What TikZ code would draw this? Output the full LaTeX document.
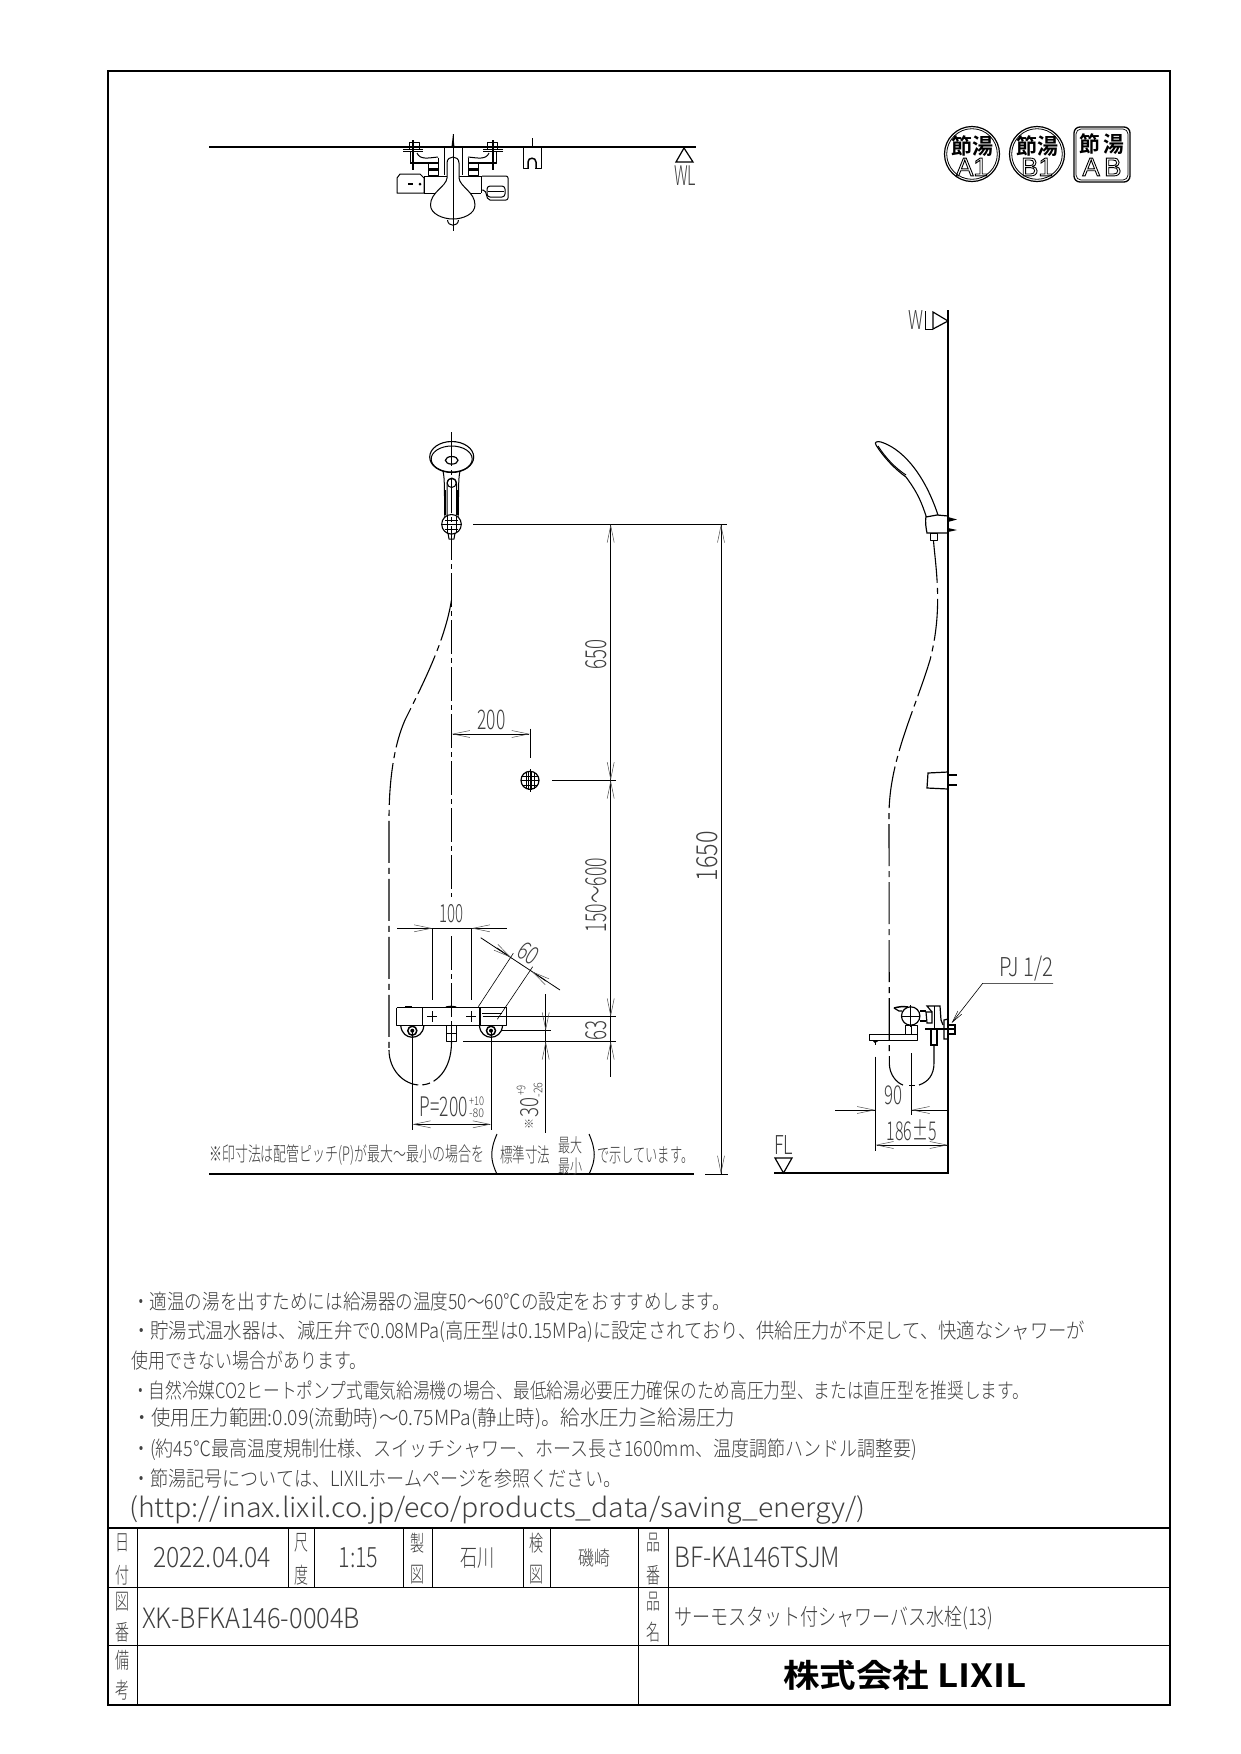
\documentclass[tikz,border=0pt]{standalone}
\usepackage{graphicx}
\usepackage{fontspec}
\usetikzlibrary{arrows.meta}
\setmainfont{Noto Sans CJK JP}[UprightFont=* Light,BoldFont=* Bold]
\setsansfont{Liberation Sans}
\newcounter{tn}
\definecolor{cadtext}{gray}{0.25}
\newcommand{\tx}[6][]{\stepcounter{tn}\node (t\arabic{tn}) [anchor=center,inner sep=0pt,text=cadtext,#1] at (#2,#3) {\resizebox{#4pt}{\height}{\fontsize{#5pt}{#5pt}\selectfont #6}};}
\newcommand{\txl}[6][]{\tx[anchor=west,#1]{#2}{#3}{#4}{#5}{#6}}
\newcommand{\vpair}[5]{\tx{#1}{#2}{14}{22}{#4}\tx{#1}{#3}{14}{22}{#5}}
\newcommand{\outl}[1]{\special{pdf:code q 1 Tr 0.9 w}#1\special{pdf:code Q}}
\tikzset{
 thick line/.style={line width=2.2pt},
 part/.style={line width=1pt,line join=round},
 fine/.style={line width=.6pt},
 ctr/.style={line width=.9pt,dash pattern=on 34pt off 4pt on 5pt off 4pt},
 hose/.style={line width=1.1pt,dash pattern=on 42pt off 5pt on 6pt off 5pt},
 dimln/.style={line width=.8pt},
 tip/.style={dimln,-{Straight Barb[length=17pt,width=7pt,line width=.5pt,color=black!70]}},
 tips/.style={dimln,{Straight Barb[length=17pt,width=7pt,line width=.5pt,color=black!70]}-{Straight Barb[length=17pt,width=7pt,line width=.5pt,color=black!70]}},
}
\begin{document}
\begin{tikzpicture}[x=1pt,y=-1pt]
\useasboundingbox (0,0) rectangle (1240,1754);
\fill[white] (0,0) rectangle (1240,1754);
% frame
\draw[line width=2pt] (108,70.5) rectangle (1170,1705);
% ---- top view
\draw[thick line] (209,147) -- (696,147);
\draw[line width=1.2pt] (684,148) -- (676,162) -- (693,162) -- cycle;
\txl{674}{176}{22}{27}{WL}
\draw[part] (444,148) -- (444,175) (462,148) -- (462,175);
% body
\draw[part] (424,176) -- (447,176) (459,176) -- (481,176);
\draw[part] (424,193) -- (436,193) (470,193) -- (481,193);
\draw[part] (424,176) -- (424,193) (481,176) -- (481,193);
% left box
\draw[part] (397,178) -- (400,174) -- (420,174) -- (424,178) -- (424,193) -- (397,193) -- cycle;
\fill (408,183) rectangle (413,185);
\fill (420,184) circle (1.5);
% right box
\draw[part,rounded corners=2pt] (482,176) -- (508,176) -- (508,200) -- (488,200) -- (485,190) -- (482,190);
\draw[part,rounded corners=3pt] (487,186) rectangle (505,197);
\draw[part] (488,191) -- (504,191);
% brackets
\foreach \s/\o in {1/0,-1/906}{
 \begin{scope}[shift={(\o,0)},xscale=\s]
  \draw[part] (403,149) -- (423,149) (403,151) -- (423,151);
  \draw[part] (409,149) -- (409,142) -- (419,142) -- (419,149);
  \draw[part] (410,152) -- (410,163) -- (438,163) -- (438,158) (410,163) -- (438,163);
  \draw[line width=1.4pt] (410,163) -- (438,163);
  \draw[part] (417,153) .. controls (420,160) and (428,158) .. (438,157);
  \draw[part] (428,163) rectangle (438,175);
  \fill (428,168) rectangle (438,171);
  \draw[line width=1.2pt] (413,140) -- (413,170);
 \end{scope}
}
% bulb
\draw[part,fill=white] (447,178) -- (447,163) .. controls (447,159) and (450,157) .. (453,157) .. controls (456,157) and (459,159) .. (459,163) -- (459,178) .. controls (460,187) and (475,192) .. (475,205) .. controls (475,214) and (463,219) .. (453,219) .. controls (443,219) and (430.5,214) .. (430.5,205) .. controls (430.5,192) and (446,187) .. (447,178) -- cycle;
\draw[part] (447.5,220) .. controls (448,227) and (458,227) .. (458.5,220);
\draw[line width=1pt] (453,134) -- (453,231);
\fill (451.5,147) -- (453,134) -- (454.5,147) -- cycle;
% hook
\draw[part] (523,148) -- (523,168) -- (529,168) (541,148) -- (541,168) -- (535,168);
\draw[line width=1.5pt] (528,168) -- (528,162) .. controls (528,157) and (536,157) .. (536,162) -- (536,168);
\draw[line width=1pt] (532,138) -- (532,147);
% ---- badges
\foreach \cx/\t in {972/A1,1037/B1}{
 \draw[line width=1.2pt] (\cx,154) circle (27.5);
 \draw[line width=.8pt] (\cx,154) circle (25.3);
}
\draw[line width=1.3pt,rounded corners=6pt] (1074,127) rectangle (1130,182);
\draw[line width=.7pt,rounded corners=5pt] (1076,129) rectangle (1128,180);
\node (b1a) [inner sep=0pt] at (972,146) {\resizebox{42pt}{\height}{\fontsize{22pt}{22pt}\selectfont\bfseries 節湯}};
\node (b1b) [inner sep=0pt] at (1037,146) {\resizebox{42pt}{\height}{\fontsize{22pt}{22pt}\selectfont\bfseries 節湯}};
\node (b1c) [inner sep=0pt] at (1102,144) {\resizebox{45pt}{\height}{\fontsize{22pt}{22pt}\selectfont\bfseries 節\,湯}};
\node (b2a) [inner sep=0pt] at (972,167) {\fontsize{26pt}{26pt}\sffamily\outl{A1}};
\node (b2b) [inner sep=0pt] at (1037,167) {\fontsize{26pt}{26pt}\sffamily\outl{B1}};
\node (b2c) [inner sep=0pt] at (1102,167) {\fontsize{26pt}{26pt}\sffamily\outl{A\,B}};
% ---- front view: shower head
\draw[line width=1.1pt] (451.7,457) ellipse [x radius=22,y radius=15.5];
\draw[part] (451.7,459) ellipse [x radius=20.5,y radius=13];
\draw[line width=1.2pt] (451.7,460.3) ellipse [x radius=6.3,y radius=3.8];
\draw[part] (443,471) .. controls (445,480) and (444,490) .. (445,517) (460,471) .. controls (458,480) and (459,490) .. (458,517);
\draw[part] (447,515) -- (447,484) .. controls (447,476) and (456.5,476) .. (456.5,484) -- (456.5,515);
\draw[part] (451.7,483) circle (4.5);
\draw[line width=1.2pt] (445,490) -- (445,515) (458,490) -- (458,515);
\draw[line width=1.1pt] (451.5,524.3) circle (9.8);
\draw[part] (441,524.3) -- (462,524.3) (445,520) -- (458,520) (445,529) -- (458,529) (447,516) -- (447,533) (456,516) -- (456,533);
\draw[part] (448,533) -- (449,539) -- (454,539) -- (455,533);
% center line front
\draw[ctr] (451.5,432) -- (451.5,897);
\draw[ctr] (451.5,936) -- (451.5,1041);
% hose front
\draw[hose] (451.5,600) .. controls (445,640) and (425,680) .. (405,720) .. controls (394,745) and (389,780) .. (389,820) -- (389,1050);
\draw[line width=1.1pt,dash pattern=on 50pt off 4pt on 8pt off 4pt] (389,1050) .. controls (389,1070) and (404,1085) .. (420,1085) .. controls (436,1085) and (451.5,1070) .. (451.5,1042);
% holder circle
\draw[line width=1.2pt] (530,780.3) circle (9);
\draw[part] (521,780.3) -- (539,780.3) (522,776) -- (538,776) (522,785) -- (538,785);
\draw[line width=1pt] (526,772) -- (526,789) (528.5,771) -- (528.5,790) (531.5,771) -- (531.5,790) (534,772) -- (534,789);
\draw[line width=1pt] (530,769) -- (530,792);
% dims
\draw[dimln] (473,524.3) -- (727,524.3);
\draw[dimln] (552,780.3) -- (616,780.3);
\draw[dimln] (610.7,524.3) -- (610.7,1077);
\draw[tip] (610.7,763) -- (610.7,780.3);
\draw[tip] (610.7,797.5) -- (610.7,780.3);
\draw[tip] (610.7,541.3) -- (610.7,524.3);
\draw[tip] (610.7,1000) -- (610.7,1016.7);
\draw[tip] (610.7,1058.3) -- (610.7,1041.3);
\draw[dimln] (721,524.3) -- (721,1174);
\draw[tip] (721,541.3) -- (721,524.3);
\draw[tip] (721,1157) -- (721,1174);
\draw[dimln] (705,1174) -- (728,1174);
\draw[thick line] (209,1174) -- (694,1174);
\tx[rotate=90]{596}{654}{30}{29}{650}
\tx[rotate=90]{596}{895}{74}{29}{150〜600}
\tx[rotate=90]{707}{856}{50}{29}{1650}
% 200
\draw[tips] (451.7,734) -- (530,734);
\draw[dimln] (530,728.7) -- (530,758);
\tx{491.5}{720}{28}{27}{200}
% 100
\draw[dimln] (397,928.3) -- (506.7,928.3);
\draw[tip] (415,928.3) -- (432.3,928.3);
\draw[tip] (489,928.3) -- (471.7,928.3);
\draw[dimln] (432.3,928.3) -- (432.3,1000) (471.7,928.3) -- (471.7,1000);
\tx{451.7}{914}{24}{25}{100}
% 60
\draw[dimln] (480.7,937.7) -- (560,990);
\draw[tip] (497,948) -- (511,957.5);
\draw[tip] (546,981) -- (532,971.5);
\draw[fine] (478.3,1006.7) -- (513.3,953.3) (497.3,1019.3) -- (532.7,966.7);
\tx[rotate=-33]{528.5}{953.5}{20}{25}{60}
% faucet front
\draw[line width=1.3pt] (396.7,1007.7) -- (506.7,1007.7);
\draw[part] (396.7,1007.7) -- (396.7,1025.7) -- (424,1025.7) (424,1025.7) -- (480,1025.7) (480,1025.7) -- (506.7,1025.7) -- (506.7,1007.7);
\draw[line width=1.4pt] (422.3,1007.7) -- (422.3,1026);
\draw[line width=1.2pt] (480,1007.7) -- (480,1026);
\draw[part] (482,1013) -- (502,1013);
\draw[part] (427,1016.7) -- (437,1016.7) (432,1011) -- (432,1022);
\draw[part] (466,1016.7) -- (476,1016.7) (471,1011) -- (471,1022);
\fill (405,1006) rectangle (412,1008);
\fill (444,1007.7) .. controls (446,1005) and (456,1005) .. (458,1007.7) -- cycle;
\foreach \cx in {412.3,491}{
 \draw[line width=1.2pt] (\cx-11.5,1026) .. controls (\cx-10,1041) and (\cx+10,1041) .. (\cx+11.5,1026);
 \draw[line width=1.5pt] (\cx,1030.7) circle (4.5);
 \fill (\cx,1030.7) circle (2);
}
\draw[part] (446,1025.7) rectangle (456.7,1041.3);
\draw[part] (446,1033) -- (456.7,1033) (451.3,1025.7) -- (451.3,1041.3);
% 63 & 30
\draw[dimln] (482.7,1016.7) -- (616,1016.7);
\draw[dimln] (463.3,1041.3) -- (616,1041.3);
\draw[dimln] (501.7,1030.7) -- (551,1030.7);
\draw[dimln] (545.7,994) -- (545.7,1133);
\draw[tip] (545.7,1013.5) -- (545.7,1030.7);
\draw[tip] (545.7,1058.5) -- (545.7,1041.3);
\tx[rotate=90]{596}{1030}{20}{29}{63}
% P=200
\draw[dimln] (412.3,1031) -- (412.3,1130) (491,1031) -- (491,1130);
\draw[tips] (412.3,1124.3) -- (491,1124.3);
\txl{419.5}{1107}{48}{27}{P=200}
\tx{476.5}{1101}{15}{12}{+10}
\tx{476.5}{1113}{15}{12}{-80}
\tx[rotate=90]{529.5}{1107}{20}{25}{30}
\tx[rotate=90]{521}{1090}{10}{12}{+9}
\tx[rotate=90]{538}{1090}{15}{12}{-26}
\tx[rotate=90]{529}{1124}{11}{11}{※}
% note
\txl{209}{1155}{275}{20}{※印寸法は配管ピッチ(P)が最大〜最小の場合を}
\draw[line width=1pt] (497,1134) .. controls (490,1150) and (490,1160) .. (497,1174);
\txl{500}{1155}{50}{20}{標準寸法}
\tx{570}{1145}{24}{19}{最大}
\tx{570}{1166}{24}{19}{最小}
\draw[line width=1pt] (589,1134) .. controls (596,1150) and (596,1160) .. (589,1174);
\txl{597}{1155}{96}{20}{で示しています。}
% ---- side view
\draw[thick line] (948,310) -- (948,1174);
\draw[line width=1.2pt] (933,312) -- (933,329) -- (948,321) -- cycle;
\txl{908}{320}{15}{26}{W}
\draw[fine] (925,311) -- (925,329) -- (933,329);
\draw[thick line] (774,1173) -- (948,1173);
\draw[line width=1.2pt] (775,1158) -- (792,1158) -- (783.5,1173) -- cycle;
\txl{774}{1145}{19}{26}{FL}
% side head
\draw[line width=1.1pt] (926,516) .. controls (920,497) and (914,488) .. (906,477) .. controls (896,470) and (884,458) .. (876,445) .. controls (874,442) and (877,441) .. (881,442) .. controls (900,448) and (923,470) .. (938,515);
\draw[part] (878,446) .. controls (885,457) and (895,468) .. (906,475);
\draw[line width=1.2pt] (926,516) .. controls (925,522) and (926,528) .. (927,533) -- (948,533) (926,517) -- (937,515) -- (948,516);
\fill (948,517) -- (957,519.5) -- (948,522) -- cycle;
\fill (948,528) -- (957,530) -- (948,532) -- cycle;
\draw[part] (930,533) rectangle (937,540);
% holder 2
\draw[line width=1.2pt] (948,772) -- (928,773) -- (927,788) -- (948,789);
\fill (948,773.5) rectangle (957,775.5);
\fill (948,784) rectangle (957,786);
% side hose
\draw[hose] (933.5,541) .. controls (936,570) and (943,610) .. (930,660) .. controls (915,710) and (889,760) .. (889,815) -- (889.3,1063);
\draw[line width=1.1pt] (889.3,1063) .. controls (889.3,1075) and (897,1083) .. (903,1085);
\draw[line width=1.1pt] (919,1085) .. controls (928,1082) and (934,1075) .. (934,1063) -- (934,1045);
\draw[line width=1pt] (909,1085) -- (915,1085);
% side faucet
\draw[line width=1.2pt] (910.7,1016) circle (9.2);
\draw[part] (901,1016) -- (920,1016) (910.7,1005) -- (910.7,1027);
\draw[line width=1.5pt] (894,1008) .. controls (898,1007) and (902,1006) .. (908,1007);
\draw[line width=1.2pt] (894,1008) -- (899,1011) -- (902,1011);
\draw[part] (869,1034) -- (917,1034) -- (917,1025) -- (905,1025) -- (905,1034);
\draw[part] (911,1025) -- (911,1034);
\draw[part] (869,1034) -- (869,1040) -- (917,1040) -- (917,1034);
\draw[part] (875,1040) -- (875,1045);
\fill (872,1040) -- (880,1040) -- (875,1043) -- cycle;
\draw[line width=1.2pt] (920,1011) -- (926,1011) (920,1021) -- (926,1021);
\draw[line width=1.2pt] (927,1023) -- (926,1012) -- (932,1012) -- (932,1023) -- cycle;
\draw[line width=1.2pt] (932,1012) -- (927,1006) -- (940,1006) -- (941,1020) -- (943,1025);
\draw[line width=1.7pt] (925,1029) -- (955,1029);
\draw[line width=1.2pt] (944,1020) -- (948,1019) -- (948,1039) -- (944,1039) -- cycle;
\draw[line width=1.1pt] (948,1025) rectangle (955,1034);
\draw[line width=1.2pt] (931,1030) -- (931,1045) -- (937,1045) -- (937,1030);
\draw[line width=1pt] (934,1006) -- (934,1030);
% PJ
\draw[fine,{Straight Barb[length=12pt,width=5pt,line width=.5pt]}-] (951.7,1023) -- (982.7,983.3) -- (1053,983.3);
\txl{999}{969}{54}{26}{PJ 1/2}
% 90
\draw[dimln] (875.3,1056.7) -- (875.3,1150.7);
\draw[dimln] (911.3,1053) -- (911.3,1115);
\draw[dimln] (835,1110) -- (875.3,1110);
\draw[tip] (858,1110) -- (875.3,1110);
\draw[dimln] (946.7,1110) -- (911.3,1110);
\draw[tip] (929,1110) -- (911.3,1110);
\tx{893.5}{1095}{18}{26}{90}
\draw[tips] (875.3,1145) -- (948,1145);
\tx{911.7}{1130}{50}{26}{186±5}
% ---- notes
\txl{132}{1302}{598}{21}{・適温の湯を出すためには給湯器の温度50〜60℃の設定をおすすめします。}
\txl{132}{1332}{953}{21}{・貯湯式温水器は、減圧弁で0.08MPa(高圧型は0.15MPa)に設定されており、供給圧力が不足して、快適なシャワーが}
\txl{131}{1361}{235}{21}{使用できない場合があります。}
\txl{132}{1390}{897}{21}{・自然冷媒CO2ヒートポンプ式電気給湯機の場合、最低給湯必要圧力確保のため高圧力型、または直圧型を推奨します。}
\txl{132}{1419}{603}{21}{・使用圧力範囲:0.09(流動時)〜0.75MPa(静止時)。給水圧力≧給湯圧力}
\txl{132}{1449.6}{785}{21}{・(約45℃最高温度規制仕様、スイッチシャワー、ホース長さ1600mm、温度調節ハンドル調整要)}
\txl{132}{1478.6}{489}{21}{・節湯記号については、LIXILホームページを参照ください。}
\txl{129}{1510}{736}{27}{(http://inax.lixil.co.jp/eco/products\_data/saving\_energy/)}
% ---- title block
\draw[line width=2.5pt] (108,1528) -- (1170,1528);
\draw[line width=1pt] (108,1587) -- (1170,1587) (108,1645) -- (1170,1645);
\draw[line width=2.5pt] (108,1705) -- (1170,1705);
\draw[line width=1pt] (137,1528) -- (137,1705) (638,1528) -- (638,1705) (668,1528) -- (668,1645);
\draw[line width=.8pt] (288,1528) -- (288,1587) (314,1528) -- (314,1587) (403,1528) -- (403,1587) (432,1528) -- (432,1587) (523,1528) -- (523,1587) (550,1528) -- (550,1587);
\vpair{122}{1543}{1575}{日}{付}
\vpair{301}{1543}{1575}{尺}{度}
\vpair{417}{1543}{1575}{製}{図}
\vpair{536}{1543}{1575}{検}{図}
\vpair{653}{1543}{1575}{品}{番}
\vpair{122}{1602}{1632}{図}{番}
\vpair{653}{1602}{1632}{品}{名}
\vpair{122}{1660}{1690}{備}{考}
\tx{212}{1558}{118}{28}{2022.04.04}
\tx{358.5}{1558}{40}{28}{1:15}
\tx{477}{1558}{34}{24}{石川}
\tx{594}{1558}{32}{20}{磯崎}
\txl{674}{1557}{166}{28}{BF-KA146TSJM}
\txl{142}{1618}{218}{28}{XK-BFKA146-0004B}
\txl{674}{1618}{319}{23}{サーモスタット付シャワーバス水栓(13)}
\node (corp) [anchor=center,inner sep=0pt] at (905,1675) {\resizebox{244pt}{\height}{\fontsize{32pt}{32pt}\selectfont\bfseries 株式会社 LIXIL}};
\end{tikzpicture}
\end{document}
